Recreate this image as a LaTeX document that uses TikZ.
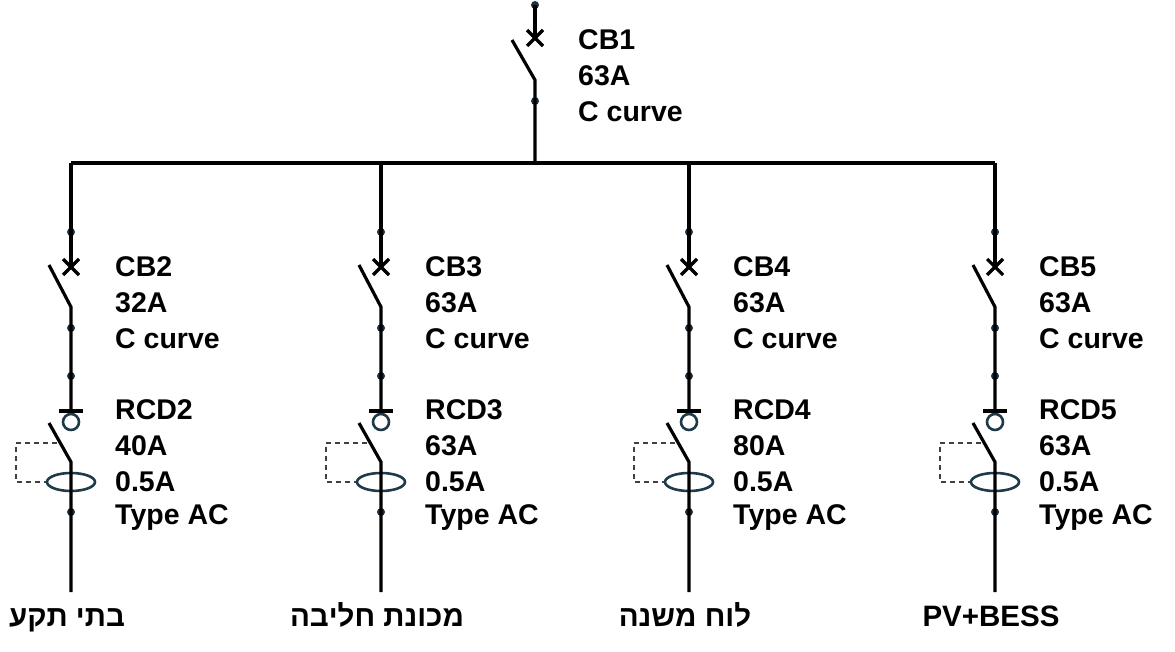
\documentclass[tikz,border=0pt]{standalone}
\usepackage{fontspec}
\setmainfont{Liberation Sans}
\usetikzlibrary{shapes.geometric}
\begin{document}
\begin{tikzpicture}[x=1pt,y=-1pt,
  wire/.style={line width=3.2pt},
  dotn/.style={circle,fill=dot,inner sep=0pt,minimum size=8pt},
  lbl/.style={anchor=west,font=\fontsize{28.5}{30}\selectfont\bfseries,inner sep=0pt},
  btm/.style={anchor=base,font=\fontsize{29.5}{30}\selectfont\bfseries,inner sep=0pt},
  xmark/.style={line width=3.2pt},
  dsh/.style={dash pattern=on 5pt off 4pt,line width=1.2pt,draw=black!75}]
\definecolor{dot}{HTML}{1F3040}
\definecolor{rcdc}{HTML}{1F3A48}
\useasboundingbox (0,0) rectangle (1175,652);
% CB1
\coordinate (t0) at (535,5);
\node[dotn] (d0) at (t0) {};
\coordinate (x0) at (535,38);
\coordinate (b0) at (535,80);
\node[dotn] (m0) at (535,101) {};
\coordinate (j0) at (535,163);
\draw[wire] (d0.center) -- (x0);
\draw[xmark] (527,30) -- (543,46) (543,30) -- (527,46);
\draw[wire] (512,40) -- (b0) -- (m0.center) -- (j0);
\node[lbl] (l0a) at (578,40) {CB1};
\node[lbl] (l0b) at (578,76) {63A};
\node[lbl] (l0c) at (578,112) {C curve};
\coordinate (busL) at (71,163);
\coordinate (busR) at (995,163);
\draw[wire] (busL) -- (busR);
\foreach \cx/\cb/\ca/\rc/\ra/\bt [count=\i] in {71/CB2/32A/RCD2/40A/{תקע בתי},381/CB3/63A/RCD3/63A/{חליבה מכונת},689/CB4/63A/RCD4/80A/{משנה לוח},995/CB5/63A/RCD5/63A/{PV+BESS}}{
  \coordinate (top\i) at (\cx,163);
  \node[dotn] (da\i) at (\cx,232) {};
  \coordinate (x\i) at (\cx,267);
  \coordinate (bl\i) at (\cx,307);
  \node[dotn] (db\i) at (\cx,328) {};
  \node[dotn] (dc\i) at (\cx,376) {};
  \coordinate (bar\i) at (\cx,411);
  \node[circle,draw=rcdc,line width=2.6pt,minimum size=16pt,inner sep=0pt] (c\i) at (\cx,422) {};
  \coordinate (rb\i) at (\cx,462);
  \node[ellipse,draw=rcdc,line width=2.6pt,minimum width=48pt,minimum height=18pt,inner sep=0pt] (e\i) at (\cx,482) {};
  \node[dotn] (dd\i) at (\cx,512) {};
  \coordinate (end\i) at (\cx,592);
  \draw[wire] (top\i) -- (da\i.center) -- (x\i);
  \draw[xmark] (\cx-8,259) -- (\cx+8,275) (\cx+8,259) -- (\cx-8,275);
  \draw[wire] (\cx-22,265) -- (bl\i) -- (db\i.center) -- (dc\i.center) -- (bar\i);
  \draw[wire] (\cx-12,411) -- (\cx+12,411);
  \draw[wire] (\cx-22,423) -- (rb\i) -- (e\i.center) -- (dd\i.center) -- (end\i);
  \draw[dsh] (\cx-14,443) -- (\cx-55,443) -- (\cx-55,482) -- (e\i.west);
  \node[lbl] at (\cx+44,267) {\cb};
  \node[lbl] at (\cx+44,303) {\ca};
  \node[lbl] at (\cx+44,339) {C curve};
  \node[lbl] at (\cx+44,410) {\rc};
  \node[lbl] at (\cx+44,446) {\ra};
  \node[lbl] at (\cx+44,482) {0.5A};
  \node[lbl] at (\cx+44,518) {Type AC};
  \node[btm] (bt\i) at (\cx-4,626) {\bt};
}
\end{tikzpicture}
\end{document}
